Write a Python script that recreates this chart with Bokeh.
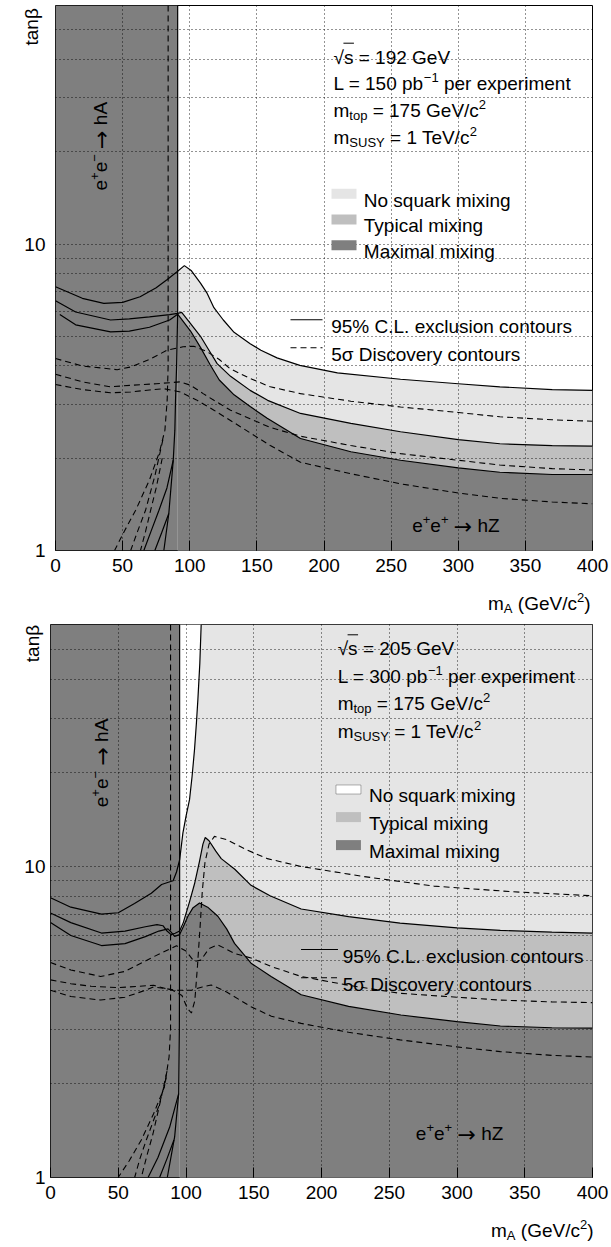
import math
from bokeh.plotting import figure
from bokeh.layouts import column, row
from bokeh.models import Range1d, FixedTicker, PrintfTickFormatter, Label, BoxAnnotation
from bokeh.embed import file_html
from bokeh.resources import INLINE

# ---------------- data ----------------
X_TICKS = [0, 50, 100, 150, 200, 250, 300, 350, 400]
Y_TICKS = [1, 10]
Y_MINOR = [2, 3, 4, 5, 6, 7, 8, 9, 20, 30, 40, 50]
Y_MAX = 60

FILL_LABELS = ["No squark mixing", "Typical mixing", "Maximal mixing"]
LINE_LABELS = ["95% C.L. exclusion contours", "5σ Discovery contours"]

# ---- sqrt(s) = 192 GeV panel ----
HA_BOUND_192 = 91.0
MA_NOMIX_192 = [0, 10, 20, 36, 50, 63, 75, 83, 91, 96, 101, 108, 113, 118, 125, 133, 145, 153, 165, 182, 210, 257, 300, 331, 370, 400]
TB_NOMIX_192 = [7.25, 6.95, 6.65, 6.4, 6.45, 6.73, 7.2, 7.65, 8.15, 8.5, 8.2, 7.45, 6.9, 6.2, 5.65, 5.15, 4.73, 4.5, 4.25, 4.02, 3.8, 3.62, 3.5, 3.42, 3.35, 3.33]
MA_TYP_192 = [0, 15, 41, 55, 70, 85, 91, 94, 100.6, 108, 115, 120.4, 130.4, 145, 158, 182.5, 220, 257, 300, 331, 370, 400]
TB_TYP_192 = [6.53, 6.0, 5.65, 5.7, 5.78, 5.88, 5.94, 5.98, 5.5, 5.0, 4.45, 4.07, 3.7, 3.33, 3.09, 2.8, 2.6, 2.44, 2.3, 2.23, 2.2, 2.19]
MA_MAX_192 = [3.2, 15, 41, 55, 70, 85, 91, 100.6, 108, 115, 122, 133, 145, 157.7, 182.5, 220, 257, 300, 331, 370, 400]
TB_MAX_192 = [5.89, 5.45, 5.17, 5.2, 5.35, 5.65, 5.9, 5.2, 4.6, 4.05, 3.6, 3.22, 2.95, 2.7, 2.32, 2.1, 1.97, 1.86, 1.80, 1.77, 1.77]
MA_D1_192 = [0, 20, 46, 56, 70, 83, 95, 103, 113, 122, 130, 145, 160, 182.5, 220, 257, 300, 331, 370, 400]
TB_D1_192 = [4.23, 4.0, 3.89, 3.97, 4.2, 4.5, 4.62, 4.64, 4.45, 4.2, 3.92, 3.64, 3.42, 3.25, 3.07, 2.94, 2.82, 2.73, 2.67, 2.64]
MA_D2_192 = [0, 20, 41, 56, 75, 93, 100.6, 110, 118, 130.4, 145, 160, 182.5, 220, 257, 300, 331, 370, 400]
TB_D2_192 = [3.76, 3.55, 3.42, 3.46, 3.5, 3.55, 3.46, 3.25, 3.09, 2.87, 2.69, 2.52, 2.36, 2.2, 2.07, 1.97, 1.90, 1.85, 1.83]
MA_D3_192 = [0, 20, 41, 56, 70, 81, 93, 105, 118, 138, 160, 182.5, 220, 257, 300, 331, 370, 400]
TB_D3_192 = [3.48, 3.35, 3.27, 3.29, 3.34, 3.37, 3.29, 3.1, 2.87, 2.53, 2.2, 1.94, 1.78, 1.65, 1.54, 1.48, 1.44, 1.42]
MA_HA1_192 = [91, 91, 90.2, 89.4, 88.9, 87.7, 84.4, 80.7]
TB_HA1_192 = [60, 5.94, 4.0, 3.09, 2.47, 1.97, 1.32, 1.0]
MA_HA2_192 = [87.7, 83, 77, 71, 65.8]
TB_HA2_192 = [1.97, 1.6, 1.35, 1.15, 1.0]
MA_HA3_192 = [84.4, 79, 74]
TB_HA3_192 = [1.32, 1.14, 1.0]
MA_HAD1_192 = [83.9, 83.9, 83.2, 81.5, 77.5, 70, 59.6, 51, 44]
TB_HAD1_192 = [60, 4.0, 3.1, 2.47, 2.1, 1.7, 1.35, 1.15, 1.0]
MA_HAD2_192 = [80, 74, 67, 61, 56]
TB_HAD2_192 = [2.3, 1.75, 1.35, 1.15, 1.0]
MA_HAD3_192 = [79.5, 75, 70.8, 67, 63.3]
TB_HAD3_192 = [2.0, 1.6, 1.35, 1.15, 1.0]

# ---- sqrt(s) = 205 GeV panel ----
HA_BOUND_205 = 95.3
MA_NOMIX_205 = [0, 15, 37.6, 50, 62, 74.4, 82, 87, 90.5, 93, 95.3, 97.7, 100, 102.6, 104.5, 106.3, 107.7, 108.8, 110.2, 111.2]
TB_NOMIX_205 = [7.93, 7.4, 7.03, 7.1, 7.6, 8.2, 8.75, 8.9, 9.0, 9.6, 10.5, 12.8, 14.5, 16.4, 19.5, 23.8, 29.0, 34.6, 45.0, 60.0]
MA_TYP_205 = [0, 15, 37.6, 55, 70, 78.6, 83, 86, 89, 92, 95.3, 98, 102.6, 106.3, 110, 112.5, 114.2, 117, 122, 126, 136, 148, 162, 185, 220, 258, 300, 332, 370, 400]
TB_TYP_205 = [7.09, 6.6, 6.11, 6.2, 6.4, 6.5, 6.45, 6.2, 6.04, 6.1, 6.2, 6.6, 7.7, 8.8, 10.4, 11.8, 12.4, 12.1, 11.2, 10.6, 9.8, 8.7, 8.05, 7.3, 6.9, 6.58, 6.35, 6.23, 6.15, 6.11]
MA_MAX_205 = [0, 15, 37.6, 55, 70, 80, 86.7, 89, 91.6, 95.3, 98, 101.4, 105, 110, 116, 123.5, 130, 135.8, 148, 162.8, 185, 220, 258.6, 300, 332, 370, 400]
TB_MAX_205 = [6.61, 6.0, 5.57, 5.65, 5.95, 6.2, 6.3, 6.15, 5.96, 6.04, 6.4, 6.92, 7.35, 7.63, 7.4, 6.92, 6.3, 5.66, 4.89, 4.43, 3.87, 3.55, 3.33, 3.17, 3.07, 3.03, 3.02]
MA_D1_205 = [0, 15, 37, 55, 75, 93, 100, 106, 111, 117, 123.5, 136, 148, 162.8, 185, 220, 258, 300, 332, 370, 400]
TB_D1_205 = [4.91, 4.65, 4.43, 4.6, 5.1, 5.56, 5.35, 4.95, 5.0, 5.45, 5.6, 5.25, 5.08, 4.77, 4.43, 4.15, 3.91, 3.8, 3.72, 3.67, 3.65]
MA_D2_205 = [0, 15, 30, 50, 65, 76, 90, 97, 101, 104, 106.5, 108.5, 110.5, 112, 114, 117, 121, 130, 145, 160, 185, 230, 283, 340, 400]
TB_D2_205 = [4.32, 4.2, 4.12, 4.08, 4.12, 4.15, 4.0, 3.85, 3.5, 3.38, 3.7, 4.8, 6.5, 8.3, 10.3, 11.8, 12.5, 12.2, 11.3, 10.6, 10.0, 9.3, 8.65, 8.3, 8.05]
MA_D3_205 = [0, 15, 37, 55, 70, 76, 85, 92, 104, 112, 118.6, 130, 148, 163, 185, 220, 258, 300, 332, 370, 400]
TB_D3_205 = [4.0, 3.82, 3.72, 3.8, 4.0, 4.1, 4.05, 4.0, 4.0, 4.1, 4.16, 3.95, 3.54, 3.3, 3.13, 2.93, 2.77, 2.63, 2.54, 2.47, 2.44]
MA_HA1_205 = [95.3, 95.3, 95.1, 94.6, 91.6, 86.2]
TB_HA1_205 = [60, 6.0, 3.0, 1.86, 1.35, 1.0]
MA_HA2_205 = [94.6, 87.9, 79.3, 72]
TB_HA2_205 = [1.86, 1.45, 1.16, 1.0]
MA_HA3_205 = [91.1, 86, 80.5]
TB_HA3_205 = [1.32, 1.15, 1.0]
MA_HAD1_205 = [88.6, 88.6, 87.5, 84, 76, 67, 58, 49.9]
TB_HAD1_205 = [60, 3.0, 2.44, 1.95, 1.6, 1.32, 1.13, 1.0]
MA_HAD2_205 = [85.5, 80, 70.7, 66, 62.1]
TB_HAD2_205 = [2.1, 1.7, 1.32, 1.15, 1.0]
MA_HAD3_205 = [86, 81, 75.6, 71, 67]
TB_HAD3_205 = [2.2, 1.75, 1.38, 1.17, 1.0]

# ---------------- styling ----------------
FONT = "Liberation Sans"
ARROW_FONT = "DejaVu Sans"
FS = 19
FS_SMALL = 13
FS_ARROW = 22
LIGHT = "#e5e5e5"
MID = "#bfbfbf"
DARK = "#7f7f7f"
DASH = "6 4"
PAGE_W = 611

# Arial / Liberation Sans advance widths (per 1000 em)
WIDTHS = {' ': 278, '=': 584, '%': 889, '.': 278, '(': 333, ')': 333, '/': 278, '+': 584,
          '−': 584, '√': 549, 'σ': 600, 'β': 575,
          'A': 667, 'C': 722, 'D': 722, 'G': 778, 'L': 556, 'M': 833, 'N': 722, 'S': 667,
          'T': 611, 'U': 722, 'V': 667, 'Y': 667, 'Z': 611,
          'a': 556, 'b': 556, 'c': 500, 'd': 556, 'e': 556, 'g': 556, 'h': 556, 'i': 222,
          'k': 500, 'l': 222, 'm': 833, 'n': 556, 'o': 556, 'p': 556, 'q': 556, 'r': 333,
          's': 500, 't': 278, 'u': 556, 'v': 500, 'x': 500, 'y': 500}
KERN = {("T", "e"): -111}


def tw(s, size, kind="n"):
    if kind == "a":
        return 838 * len(s) * size / 1000.0
    w = sum(WIDTHS.get(ch, 556) for ch in s)
    w += sum(KERN.get((a, b), 0) for a, b in zip(s, s[1:]))
    return w * size / 1000.0


class Geo:
    """Maps page pixels to data coordinates of a main panel (x linear 0..400, y log 1..60)."""
    def __init__(self, left, top, width, height):
        self.left, self.top, self.width, self.height = left, top, width, height

    def x(self, px):
        return (px - self.left) / self.width * 400.0

    def y(self, py):
        return 10 ** ((self.top + self.height - py) / self.height * math.log10(Y_MAX))


SIZES = {"n": FS, "s": FS_SMALL, "b": FS_SMALL, "a": FS_ARROW}
SHIFTS = {"n": 0, "s": 6, "b": -5, "a": -1}


def rich(p, fx, fy, px, py, segs, angle=0.0, align="left"):
    total = sum(tw(t, SIZES[k], k) for t, k in segs)
    adv = 0.0 if align == "left" else -total
    for t, k in segs:
        fs = SIZES[k]
        shift = SHIFTS[k]
        stripped = t.lstrip(" ")
        lead = tw(t[:len(t) - len(stripped)], FS)
        pos = adv + lead
        if angle == 0:
            xo, yo = pos, shift
        else:
            xo, yo = -shift, pos
        p.add_layout(Label(x=fx(px), y=fy(py), x_offset=xo, y_offset=yo, text=stripped,
                           text_font=ARROW_FONT if k == "a" else FONT,
                           text_font_size=f"{fs}px", text_color="black",
                           text_baseline="alphabetic", text_align="left", angle=angle))
        adv += lead + tw(stripped, fs, k)


def right_part(xs, ys, bound):
    pts = [(a, b) for a, b in zip(xs, ys) if a >= bound - 1e-9]
    return [a for a, _ in pts], [b for _, b in pts]


def blank(width, height):
    f = figure(width=width, height=height, x_range=Range1d(0, width), y_range=Range1d(0, height),
               x_axis_location=None, y_axis_location=None,
               output_backend="svg", toolbar_location=None, min_border=0)
    f.outline_line_color = None
    f.background_fill_color = "white"
    f.border_fill_color = "white"
    for g in f.grid:
        g.visible = False
    return f


BOTTOM_BORDER = 31


def make_panel(geo, row_top, d, cfg):
    top_b = geo.top - row_top
    fig_h = top_b + geo.height + BOTTOM_BORDER
    right_b = PAGE_W - geo.left - geo.width
    p = figure(width=PAGE_W, height=fig_h,
               x_range=Range1d(0, 400), y_range=Range1d(1, Y_MAX),
               y_axis_type="log", output_backend="svg", toolbar_location=None,
               min_border_left=geo.left, min_border_right=right_b,
               min_border_top=top_b, min_border_bottom=BOTTOM_BORDER)
    p.background_fill_color = "white"
    p.border_fill_color = "white"
    p.outline_line_color = "black"
    p.outline_line_width = 1

    bound = d["bound"]
    # fills
    if cfg["bottom_style"]:
        p.quad(left=bound, right=400, bottom=1, top=Y_MAX, fill_color=LIGHT, line_color=None)
        wx, wy = right_part(d["nomix"][0], d["nomix"][1], bound)
        p.patch(x=wx + [bound], y=wy + [Y_MAX], fill_color="white", line_color=None)
    else:
        lx, ly = right_part(d["nomix"][0], d["nomix"][1], bound)
        p.varea(x=lx, y1=1, y2=ly, fill_color=LIGHT)
    tx, ty = right_part(d["typ"][0], d["typ"][1], bound)
    p.varea(x=tx, y1=1, y2=ty, fill_color=MID)
    mx, my = right_part(d["max"][0], d["max"][1], bound)
    p.varea(x=mx, y1=1, y2=my, fill_color=DARK)
    p.quad(left=0, right=bound, bottom=1, top=Y_MAX, fill_color=DARK, line_color=None)

    # contours
    for key in ["nomix", "typ", "max", "ha1", "ha2", "ha3"]:
        xs, ys = d[key]
        p.line(xs, ys, line_color="black", line_width=1.2)
    for key in ["d1", "d2", "d3", "had1", "had2", "had3"]:
        xs, ys = d[key]
        p.line(xs, ys, line_color="black", line_width=1.1, line_dash=DASH)

    # x axis
    p.xaxis.ticker = FixedTicker(ticks=X_TICKS)
    p.xaxis.axis_line_color = None
    p.xaxis.major_tick_in = 10
    p.xaxis.major_tick_out = 0
    p.xaxis.major_tick_line_color = "black"
    p.xaxis.minor_tick_line_color = None
    p.xaxis.major_label_standoff = 8
    p.xaxis.major_label_text_font = FONT
    p.xaxis.major_label_text_font_size = f"{FS}px"
    p.xaxis.major_label_text_color = "black"

    # y axis
    yt = FixedTicker(ticks=Y_TICKS, minor_ticks=Y_MINOR)
    p.yaxis.ticker = yt
    p.yaxis.formatter = PrintfTickFormatter(format="%d")
    p.yaxis.axis_line_color = None
    p.yaxis.major_tick_in = 0
    p.yaxis.major_tick_out = 0
    p.yaxis.minor_tick_line_color = None
    p.yaxis.major_label_standoff = cfg["ystandoff"]
    p.yaxis.major_label_text_font = FONT
    p.yaxis.major_label_text_font_size = f"{FS}px"
    p.yaxis.major_label_text_color = "black"

    # dotted grid over the fills
    p.xgrid.ticker = FixedTicker(ticks=X_TICKS)
    p.ygrid.ticker = yt
    for g in (p.xgrid, p.ygrid):
        g.grid_line_color = "black"
        g.grid_line_dash = "1 3"
        g.grid_line_width = 1
        g.grid_line_alpha = 0.85
        g.level = "guide"
    p.ygrid.minor_grid_line_color = "black"
    p.ygrid.minor_grid_line_dash = "1 3"
    p.ygrid.minor_grid_line_alpha = 0.85

    fx, fy = geo.x, geo.y
    # info text
    ix = cfg["info_x"]
    b = cfg["info_base"]
    rich(p, fx, fy, ix, b[0], [(cfg["energy"], "n")])
    r0 = ix + tw("√", FS)
    bar_y = geo.y(b[0] - 14)
    p.line([geo.x(r0 - 0.5), geo.x(r0 + tw("s", FS) + 0.5)], [bar_y, bar_y], line_color="black", line_width=1)
    rich(p, fx, fy, ix, b[1], [(cfg["lumi"], "n"), ("−1", "s"), (" per experiment", "n")])
    rich(p, fx, fy, ix, b[2], [("m", "n"), ("top", "b"), (" = 175 GeV/c", "n"), ("2", "s")])
    rich(p, fx, fy, ix, b[3], [("m", "n"), ("SUSY", "b"), (" = 1 TeV/c", "n"), ("2", "s")])

    # fill legend
    bl, br = cfg["box_x"]
    fills = [LIGHT, MID, DARK]
    for i, lab in enumerate(FILL_LABELS):
        base = cfg["leg_base"][i]
        c = base - 6.3
        if cfg["bottom_style"] and i == 0:
            p.add_layout(BoxAnnotation(left=geo.x(bl), right=geo.x(br), bottom=geo.y(c + 4.5), top=geo.y(c - 4.5),
                                       fill_color="white", fill_alpha=1, line_color="black", line_width=1))
        else:
            p.add_layout(BoxAnnotation(left=geo.x(bl), right=geo.x(br), bottom=geo.y(c + 5), top=geo.y(c - 5),
                                       fill_color=fills[i], fill_alpha=1, line_color=None))
        rich(p, fx, fy, cfg["leg_text_x"], base, [(lab, "n")])

    # line legend
    l0, l1 = cfg["line_x"]
    for i, lab in enumerate(LINE_LABELS):
        base = cfg["line_base"][i]
        ly_ = geo.y(base - 7)
        if i == 0:
            p.line([geo.x(l0), geo.x(l1)], [ly_, ly_], line_color="black", line_width=1.1)
        else:
            p.line([geo.x(l0), geo.x(l1)], [ly_, ly_], line_color="black", line_width=1.1, line_dash=DASH)
        rich(p, fx, fy, cfg["line_text_x"], base, [(lab, "n")])

    # process labels
    hx, hb = cfg["hz"]
    rich(p, fx, fy, hx, hb, [("e", "n"), ("+", "s"), ("e", "n"), ("+", "s"), (" ", "n"), ("→", "a"), (" hZ", "n")])
    ax, ay = cfg["ha"]
    rich(p, fx, fy, ax, ay, [("e", "n"), ("+", "s"), ("e", "n"), ("−", "s"), (" ", "n"), ("→", "a"), (" hA", "n")],
         angle=math.pi / 2)

    # y-axis title: a label in the left side panel (outside the frame, so not clipped)
    tbx, tby = cfg["tanb"]
    p.add_layout(Label(x=geo.x(tbx), y=geo.y(tby), text="tanβ", text_font=FONT,
                       text_font_size=f"{FS}px", text_color="black",
                       text_baseline="alphabetic", text_align="left", angle=math.pi / 2), "left")

    # ---- bottom strip: x axis title ----
    strip_top = row_top + fig_h
    strip_h = cfg["block_h"] - fig_h
    bs = blank(PAGE_W, strip_h)
    bfx = lambda px: px
    bfy = lambda py: strip_top + strip_h - py
    mxp, mbp = cfg["ma"]
    rich(bs, bfx, bfy, mxp, mbp, [("m", "n"), ("A", "b"), (" (GeV/c", "n"), ("2", "s"), (")", "n")], align="right")

    return column(row(p, spacing=0), bs, spacing=0)


data192 = dict(bound=HA_BOUND_192,
               nomix=(MA_NOMIX_192, TB_NOMIX_192), typ=(MA_TYP_192, TB_TYP_192), max=(MA_MAX_192, TB_MAX_192),
               d1=(MA_D1_192, TB_D1_192), d2=(MA_D2_192, TB_D2_192), d3=(MA_D3_192, TB_D3_192),
               ha1=(MA_HA1_192, TB_HA1_192), ha2=(MA_HA2_192, TB_HA2_192), ha3=(MA_HA3_192, TB_HA3_192),
               had1=(MA_HAD1_192, TB_HAD1_192), had2=(MA_HAD2_192, TB_HAD2_192), had3=(MA_HAD3_192, TB_HAD3_192))
data205 = dict(bound=HA_BOUND_205,
               nomix=(MA_NOMIX_205, TB_NOMIX_205), typ=(MA_TYP_205, TB_TYP_205), max=(MA_MAX_205, TB_MAX_205),
               d1=(MA_D1_205, TB_D1_205), d2=(MA_D2_205, TB_D2_205), d3=(MA_D3_205, TB_D3_205),
               ha1=(MA_HA1_205, TB_HA1_205), ha2=(MA_HA2_205, TB_HA2_205), ha3=(MA_HA3_205, TB_HA3_205),
               had1=(MA_HAD1_205, TB_HAD1_205), had2=(MA_HAD2_205, TB_HAD2_205), had3=(MA_HAD3_205, TB_HAD3_205))

cfg192 = dict(bottom_style=False, energy="√s = 192 GeV", lumi="L = 150 pb",
              info_x=333, info_base=[56.7, 83.3, 110, 136.7],
              box_x=(331, 356), leg_text_x=363.3, leg_base=[199.5, 225.3, 251],
              line_x=(290, 322), line_text_x=330.7, line_base=[326.3, 354.3],
              hz=(411.7, 525), ha=(100, 190), tanb=(31, 45), ma=(590, 603),
              ystandoff=6, block_h=615)
cfg205 = dict(bottom_style=True, energy="√s = 205 GeV", lumi="L = 300 pb",
              info_x=336.7, info_base=[648.3, 676, 703.3, 731],
              box_x=(335, 360), leg_text_x=368, leg_base=[795.3, 822.9, 850.9],
              line_x=(300, 337), line_text_x=341.7, line_base=[956, 984.3],
              hz=(415, 1133.3), ha=(100, 806.7), tanb=(31, 661.7), ma=(593, 1230),
              ystandoff=1, block_h=632)

geo_top = Geo(55, 5, 537, 545)
geo_bot = Geo(49, 624, 543, 553)
top_block = make_panel(geo_top, 0, data192, cfg192)      # rows 0 .. 615
bot_block = make_panel(geo_bot, 615, data205, cfg205)    # rows 615 .. 1247

layout = column(top_block, bot_block, spacing=0)
open("out.html", "w").write(file_html(layout, INLINE))
